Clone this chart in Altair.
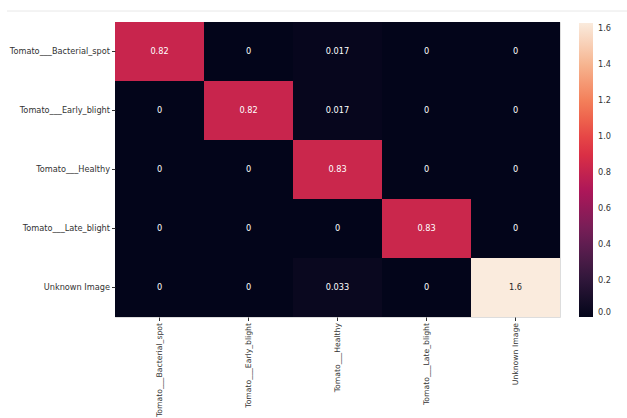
import altair as alt
import pandas as pd

rows = ["Tomato___Bacterial_spot", "Tomato___Early_blight", "Tomato___Healthy",
        "Tomato___Late_blight", "Unknown Image"]
cols = rows
values = [
    [0.82, 0, 0.017, 0, 0],
    [0, 0.82, 0.017, 0, 0],
    [0, 0, 0.83, 0, 0],
    [0, 0, 0, 0.83, 0],
    [0, 0, 0.033, 0, 1.633],
]
colorbar_ticks = [0.0, 0.2, 0.4, 0.6, 0.8, 1.0, 1.2, 1.4, 1.6]

records = []
for i, r in enumerate(rows):
    for j, c in enumerate(cols):
        records.append({"actual": r, "predicted": c, "value": values[i][j]})
df = pd.DataFrame(records)

vmax = max(max(r) for r in values)
rocket = ["#03051a", "#35193e", "#701f57", "#ad1759", "#e13342", "#f37651", "#f6b48f", "#faebdd"]
stops = [0, 1/7, 2/7, 3/7, 4/7, 5/7, 6/7, 1]
domain = [s * vmax for s in stops]

FONT = "DejaVu Sans"
FS = 8.2

base = alt.Chart(df)

heat = base.mark_rect(strokeWidth=0).encode(
    x=alt.X("predicted:N", sort=cols, title=None,
            scale=alt.Scale(paddingInner=0, paddingOuter=0),
            axis=alt.Axis(labelAngle=-90, labelFontSize=7.7, labelColor="#333",
                          tickSize=3.5, tickColor="#333", domain=False, grid=False,
                          labelPadding=2, labelLimit=200, labelFont=FONT)),
    y=alt.Y("actual:N", sort=rows, title=None,
            scale=alt.Scale(paddingInner=0, paddingOuter=0),
            axis=alt.Axis(labelFontSize=FS, labelColor="#333", tickSize=3.5,
                          tickColor="#333", domain=False, grid=False, labelPadding=2,
                          labelLimit=200, labelFont=FONT)),
    color=alt.Color("value:Q",
                    scale=alt.Scale(domain=domain, range=rocket, interpolate="rgb"),
                    legend=alt.Legend(title=None, orient="none", legendX=464, legendY=1,
                                      gradientLength=294, gradientThickness=14,
                                      values=colorbar_ticks, format=".1f",
                                      labelFontSize=FS, labelColor="#333",
                                      labelFont=FONT, gradientStrokeWidth=0,
                                      labelOffset=5)),
)

text = base.mark_text(fontSize=FS, font=FONT).encode(
    x=alt.X("predicted:N", sort=cols),
    y=alt.Y("actual:N", sort=rows),
    text=alt.Text("value:Q", format=".2~g"),
    color=alt.condition(alt.datum.value > 1.2, alt.value("#262626"), alt.value("white")),
)

topline = alt.Chart(pd.DataFrame({"v": [0]})).mark_rule(color="#e8e8e8", strokeWidth=1).encode(
    x=alt.value(-108), x2=alt.value(512), y=alt.value(-11)
)

chart = alt.layer(heat, text, topline).properties(
    width=445, height=295,
    autosize=alt.AutoSizeParams(type="none"),
    padding={"left": 115, "top": 22, "right": 67, "bottom": 101},
).configure_view(stroke=None).configure_axis(grid=False).configure(background="white")

chart.save("out.html", embed_options={"renderer": "svg", "actions": False})
